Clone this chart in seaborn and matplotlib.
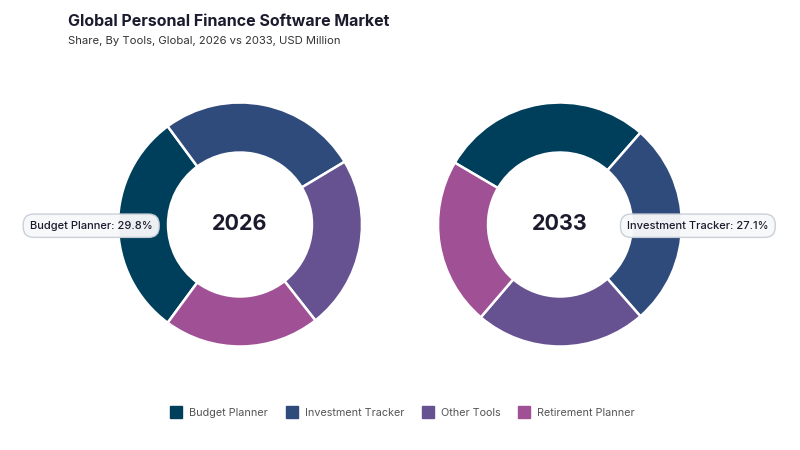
import matplotlib
matplotlib.use("Agg")
import matplotlib.pyplot as plt
from matplotlib.lines import Line2D
import seaborn as sns

# data
tools = ["Budget Planner", "Investment Tracker", "Other Tools", "Retirement Planner"]
share_2026 = [29.8, 26.5, 23.0, 20.7]
share_2033 = [28.0, 27.1, 22.7, 22.2]
years = ["2026", "2033"]
colors = ["#003f5c", "#2f4b7c", "#665191", "#a05195"]

sns.set_style("white")
plt.rcParams["font.family"] = ["Inter", "DejaVu Sans"]
pal = sns.color_palette(colors)

fig = plt.figure(figsize=(8, 4.5), dpi=100)

def donut(ax, vals, year, hi, hi_angle, label_x):
    # rotate so the highlighted slice is centred at hi_angle (clockwise from 12 o'clock)
    before = sum(vals[:hi])
    total = sum(vals)
    theta0 = hi_angle - 360 * (before + vals[hi] / 2) / total
    ax.pie(vals, colors=pal, startangle=90 - theta0, counterclock=False,
           radius=1, wedgeprops=dict(width=0.41, edgecolor="white", linewidth=1.8))
    ax.set_xlim(-1, 1)
    ax.set_ylim(-1, 1)
    ax.set_aspect("equal")
    ax.text(0, 0, year, ha="center", va="center", fontsize=15.5, fontweight="bold",
            color="#1c1b2e")
    ax.text(label_x, -0.01, f"{tools[hi]}: {vals[hi]}%", ha="center", va="center",
            fontsize=8, color="#1c1b2e", fontweight="medium",
            bbox=dict(boxstyle="round,pad=0.6,rounding_size=0.95", fc="#f7f8fa",
                      ec="#c9ced8", lw=1, alpha=0.96), zorder=5)

ax1 = fig.add_axes([118 / 800, 103.5 / 450, 244 / 800, 244 / 450])
donut(ax1, share_2026, years[0], 0, 270, -1.22)
ax2 = fig.add_axes([438 / 800, 103.5 / 450, 244 / 800, 244 / 450])
donut(ax2, share_2033, years[1], 1, 90, 1.13)

fig.text(68 / 800, 1 - 22 / 450, "Global Personal Finance Software Market",
         fontsize=11.5, fontweight="bold", color="#1c1b2e", va="center")
fig.text(68 / 800, 1 - 41 / 450, "Share, By Tools, Global, 2026 vs 2033, USD Million",
         fontsize=8.1, color="#333333", va="center")

handles = [Line2D([0], [0], marker="s", linestyle="", markersize=9,
                  markerfacecolor=c, markeredgecolor=c) for c in pal]
leg = fig.legend(handles, tools, loc="center", bbox_to_anchor=(0.5, 1 - 413 / 450),
                 ncol=4, frameon=False, fontsize=7.8, handletextpad=0.2,
                 columnspacing=1.2)
for t in leg.get_texts():
    t.set_color("#555555")

fig.savefig("out.png", dpi=100)
